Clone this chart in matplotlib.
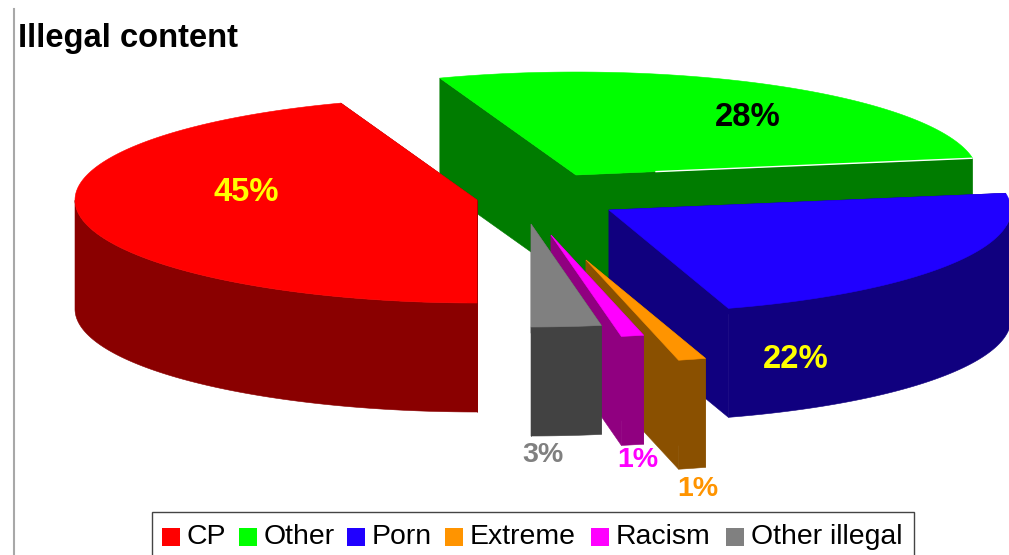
import numpy as np
import matplotlib
matplotlib.use("Agg")
import matplotlib.pyplot as plt
from matplotlib.patches import Polygon, Rectangle

plt.rcParams['font.family'] = ['Liberation Sans', 'DejaVu Sans']

# ---- data
categories = ["CP", "Other", "Porn", "Extreme", "Racism", "Other illegal"]
shares = [44.5, 27.9, 22.8, 1.1, 0.9, 2.8]
share_labels = ["45%", "28%", "22%", "1%", "1%", "3%"]

# ---- styles and layout (pixel space of the 1009x555 canvas)
top_colors = ["#FF0000", "#00FF00", "#2000FF", "#FF9400", "#FF00FF", "#808080"]
side_colors = ["#8A0000", "#007C00", "#10007F", "#8A5000", "#900080", "#424242"]
label_colors = ["#FFFF00", "#000000", "#FFFF00", "#FF9400", "#FF00FF", "#808080"]
label_sizes = [23.6, 23.6, 23.6, 20.5, 20.5, 20.5]
label_pos = [(246, 192.5), (748, 117.5), (796, 359.5), (698, 489), (638, 460), (543, 455)]
apexes = [(477, 200), (576, 175), (609, 210), (586, 260), (551, 235), (531, 224)]
draw_order = [1, 0, 2, 3, 4, 5]
start_angle = 270.0
rx, ry, depth = 402.0, 103.0, 109.0

legend_square_x = [162, 239, 347, 445, 591, 726]
legend_text_x = [186, 264, 372, 470, 616, 751]

W, H = 1009, 555
fig = plt.figure(figsize=(W / 100, H / 100), dpi=100)
ax = fig.add_axes([0, 0, 1, 1])
ax.set_xlim(0, W)
ax.set_ylim(H, 0)
ax.axis("off")


def rim(cx, cy, a_deg):
    a = np.radians(a_deg)
    return cx + rx * np.cos(a), cy - ry * np.sin(a)


def poly(points, color, z):
    ax.add_patch(Polygon(points, closed=True, facecolor=color, edgecolor=color,
                         linewidth=0.4, zorder=z))


edges = start_angle - np.cumsum([0] + shares) * 360.0 / sum(shares)
for rank, i in enumerate(draw_order):
    cx, cy = apexes[i]
    a1, a2 = edges[i], edges[i + 1]
    z = 2 + rank
    side, top = side_colors[i], top_colors[i]
    for a in (a1, a2):
        px, py = rim(cx, cy, a)
        poly([(cx, cy), (px, py), (px, py + depth), (cx, cy + depth)], side, z)
    angles = np.linspace(a1, a2, 240)
    xs, ys = rim(cx, cy, angles)
    front = np.sin(np.radians(angles)) < 0
    if front.any():
        fx, fy = xs[front], ys[front]
        poly(np.r_[np.c_[fx, fy], np.c_[fx[::-1], fy[::-1] + depth]], side, z)
    poly(np.r_[[(cx, cy)], np.c_[xs, ys]], top, z)

# thin light seam along the far radial edge of the green slice
ax_, ay_ = apexes[1]
gx, gy = rim(ax_, ay_, edges[2])
ax.plot([ax_ + 0.2 * (gx - ax_), gx], [ay_ + 0.2 * (gy - ay_), gy], color="white",
        lw=1.0, zorder=3, solid_capstyle="butt")

for lab, col, size, (lx, ly) in zip(share_labels, label_colors, label_sizes, label_pos):
    ax.text(lx, ly, lab, color=col, fontsize=size, fontweight="bold",
            ha="center", va="center", zorder=20)

ax.text(18, 47, "Illegal content", fontsize=23.6, fontweight="bold", color="black",
        ha="left", va="baseline", zorder=20)

# page rule at the left and legend frame
ax.plot([14, 14], [9, H], color="#A8A8A8", lw=1.5, zorder=1)
ax.add_patch(Rectangle((151.5, 511.5), 762, 60, facecolor="white", edgecolor="#444444",
                       linewidth=1.0, zorder=10, clip_on=True))
for cat, col, sx, tx in zip(categories, top_colors, legend_square_x, legend_text_x):
    ax.add_patch(Rectangle((sx, 528), 18, 18, facecolor=col, edgecolor="none", zorder=11))
    ax.text(tx, 544, cat, fontsize=20.4, color="black", ha="left", va="baseline", zorder=11)

fig.savefig("out.png", dpi=100, facecolor="white")
